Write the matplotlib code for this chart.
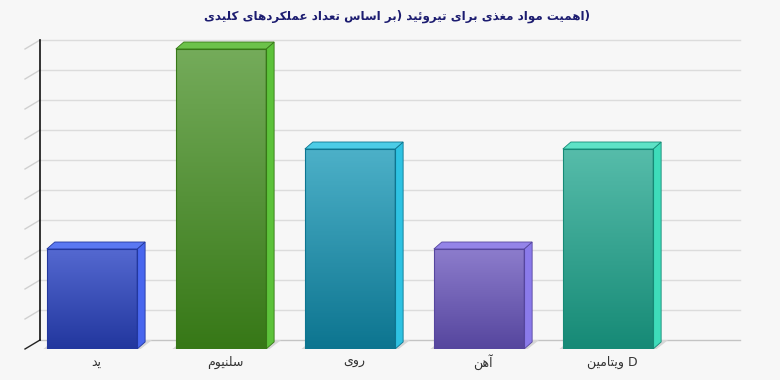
import numpy as np
import matplotlib
matplotlib.use('Agg')
import matplotlib.pyplot as plt
from matplotlib.patches import Polygon
from matplotlib.transforms import offset_copy

###############################################################################
plt.rcParams['font.family'] = ['DejaVu Sans']
TITLE = 'اهمیت مواد مغذی برای تیروئید (بر اساس تعداد عملکردهای کلیدی)'
nutrients = ['ید', 'سلنیوم', 'روی', 'آهن', 'ویتامین D']
functions_count = [1, 3, 2, 1, 2]
grid_values = [0, 0.3, 0.6, 0.9, 1.2, 1.5, 1.8, 2.1, 2.4, 2.7, 3.0]

# (روشن بالا, تیره پایین, وجه کناری, وجه بالا)
bar_colors = [('#5468d0', '#22379e', '#4866ee', '#5a78f2'),
              ('#74ab5a', '#377817', '#5cc23a', '#6cc24a'),
              ('#4cb0c8', '#0d7590', '#2ec2e2', '#4ccce6'),
              ('#8c7ccc', '#56469e', '#8a7aea', '#9484e8'),
              ('#56bcaa', '#168a76', '#3edcba', '#5ee2c6')]
###############################################################################
# شکل دادن حروف عربی/فارسی (matplotlib خودش این کار را نمی کند)
FORMS = {
    'ا': ('\uFE8D', '\uFE8E', None, None),
    'آ': ('\uFE81', '\uFE82', None, None),
    'ب': ('\uFE8F', '\uFE90', '\uFE91', '\uFE92'),
    'ت': ('\uFE95', '\uFE96', '\uFE97', '\uFE98'),
    'د': ('\uFEA9', '\uFEAA', None, None),
    'ذ': ('\uFEAB', '\uFEAC', None, None),
    'ر': ('\uFEAD', '\uFEAE', None, None),
    'س': ('\uFEB1', '\uFEB2', '\uFEB3', '\uFEB4'),
    'ع': ('\uFEC9', '\uFECA', '\uFECB', '\uFECC'),
    'غ': ('\uFECD', '\uFECE', '\uFECF', '\uFED0'),
    'ک': ('\uFED9', '\uFEDA', '\uFEDB', '\uFEDC'),
    'ل': ('\uFEDD', '\uFEDE', '\uFEDF', '\uFEE0'),
    'م': ('\uFEE1', '\uFEE2', '\uFEE3', '\uFEE4'),
    'ن': ('\uFEE5', '\uFEE6', '\uFEE7', '\uFEE8'),
    'ه': ('\uFEE9', '\uFEEA', '\uFEEB', '\uFEEC'),
    'و': ('\uFEED', '\uFEEE', None, None),
    'ئ': ('\uFE89', '\uFE8A', '\uFE8B', '\uFE8C'),
    'ی': ('\uFEEF', '\uFEF0', '\uFEF3', '\uFEF4'),
}
MIRROR = {'(': ')', ')': '('}


def rtl(s):
    shaped = []
    for i, c in enumerate(s):
        if c not in FORMS:
            shaped.append(c)
            continue
        prev = s[i - 1] if i > 0 else ''
        nxt = s[i + 1] if i + 1 < len(s) else ''
        jp = prev in FORMS and FORMS[prev][2] is not None
        jn = nxt in FORMS and FORMS[c][2] is not None
        f = FORMS[c]
        shaped.append(f[3] if jp and jn else f[1] if jp else f[2] if jn else f[0])
    kinds = ['R' if c in FORMS else 'L' if c.isascii() and c.isalnum() else 'N' for c in s]
    strong = [(i, k) for i, k in enumerate(kinds) if k != 'N']
    for i, k in enumerate(kinds):
        if k == 'N':
            before = [kk for j, kk in strong if j < i]
            after = [kk for j, kk in strong if j > i]
            kinds[i] = 'R' if before and after and before[-1] == 'R' and after[0] == 'R' else 'L'
    out, run, cur = '', [], None
    for c, k in zip(shaped, kinds):
        if k != cur and run:
            out += ''.join(MIRROR.get(x, x) for x in reversed(run)) if cur == 'R' else ''.join(run)
            run = []
        cur = k
        run.append(c)
    out += ''.join(MIRROR.get(x, x) for x in reversed(run)) if cur == 'R' else ''.join(run)
    return out
###############################################################################
fig = plt.figure(figsize=(7.8, 3.8), dpi=100)
fig.patch.set_facecolor('#f7f7f7')
ax = fig.add_axes([25 / 780, 31 / 380, 700 / 780, 330 / 380])
ax.set_facecolor('none')
ax.axis('off')
ax.set_xlim(-0.519, 4.907)
ax.set_ylim(0, 3.3)

x = np.arange(len(nutrients))
back = offset_copy(ax.transData, fig, x=15, y=9, units='dots')

# دیوار پشتی: خطوط شبکه و خطوط مورب سمت چپ
for v in grid_values:
    gc = '#c4c4c4' if v == 0 else '#dcdcdc'
    ax.plot([-0.519, 4.907], [v, v], color=gc, lw=1, transform=back, clip_on=False, zorder=0)
    p0 = ax.transData.transform((-0.519, v))
    dc = '#222222' if v == 0 else '#d0d0d0'
    ax.add_line(plt.Line2D([p0[0], p0[0] + 15], [p0[1], p0[1] + 9], color=dc, lw=1,
                           transform=None, clip_on=False, zorder=0))
ax.plot([-0.519, -0.519], [0, 3.0], color='#111111', lw=1.2, transform=back, clip_on=False, zorder=1)

# میله ها
bars = ax.bar(x, functions_count, width=0.7, color='none', zorder=3)
DX, DY = 8, 7
for rect, cols in zip(bars, bar_colors):
    xl, w, h = rect.get_x(), rect.get_width(), rect.get_height()
    bl = ax.transData.transform((xl, 0))
    tr = ax.transData.transform((xl + w, h))
    # سایه زیر میله
    ax.add_patch(Polygon([(bl[0] - 6, bl[1] - 2), (tr[0] + 1, bl[1] - 2), (tr[0] + 15, bl[1] + 9),
                          (bl[0] + 8, bl[1] + 9)], closed=True, facecolor='#d6d6d6',
                         edgecolor='none', transform=None, zorder=1))
    grad = np.linspace(0, 1, 100).reshape(-1, 1)
    cmap = matplotlib.colors.LinearSegmentedColormap.from_list('g', [cols[1], cols[0]])
    im = ax.imshow(grad, cmap=cmap, aspect='auto', extent=[xl, xl + w, 0, h],
                   origin='lower', zorder=4)
    im.set_clip_path(rect)
    rect.set_edgecolor(cols[1])
    rect.set_linewidth(0.8)
    rect.set_zorder(5)
    # وجه کناری
    ax.add_patch(Polygon([(tr[0], bl[1]), (tr[0], tr[1]), (tr[0] + DX, tr[1] + DY), (tr[0] + DX, bl[1] + DY)],
                         closed=True, facecolor=cols[2], edgecolor=cols[1], lw=0.6,
                         transform=None, zorder=4))
    # وجه بالا
    ax.add_patch(Polygon([(bl[0], tr[1]), (tr[0], tr[1]), (tr[0] + DX, tr[1] + DY), (bl[0] + DX, tr[1] + DY)],
                         closed=True, facecolor=cols[3], edgecolor=cols[1], lw=0.6,
                         transform=None, zorder=4))

# برچسب ها
lab = offset_copy(ax.transData, fig, x=4, y=-13, units='dots')
for xi, name in zip(x, nutrients):
    ax.text(xi, 0, rtl(name), transform=lab, ha='center', va='center', fontsize=9, color='#333333')

fig.text(0.509, 1 - 16 / 380, rtl(TITLE), ha='center', va='center', fontsize=8.6,
         fontweight='bold', color='#1c1c70')

plt.savefig('out.png', dpi=100, facecolor=fig.get_facecolor())
